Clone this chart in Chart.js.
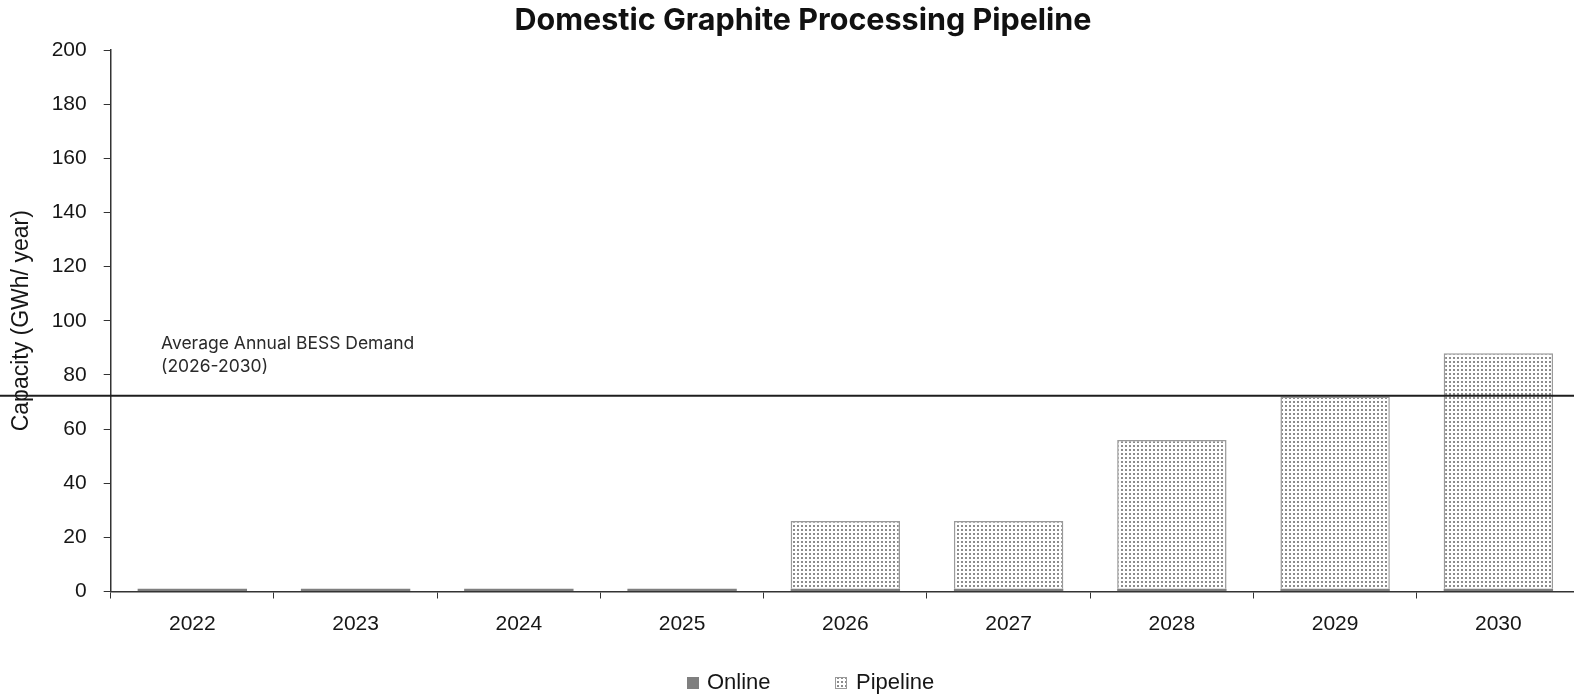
<!DOCTYPE html>
<html>
<head>
<meta charset="utf-8">
<script src="https://cdn.jsdelivr.net/npm/chart.js@4.4.1/dist/chart.umd.min.js"></script>
<style>
  html, body { margin: 0; padding: 0; background: #fff; overflow: hidden; }
  canvas { display: block; }
</style>
</head>
<body>
<canvas id="chart" width="1580" height="694"></canvas>
<script>
// Capacity by year (GWh / year)
const years = ['2022', '2023', '2024', '2025', '2026', '2027', '2028', '2029', '2030'];
const onlineCapacity = [1, 1, 1, 1, 1, 1, 1, 1, 1];
const pipelineCapacity = [0, 0, 0, 0, 25, 25, 55, 71, 87];
const yTicks = [0, 20, 40, 60, 80, 100, 120, 140, 160, 180, 200];
const demandLevel = 72.3;
const demandLabel = ['Average Annual BESS Demand', '(2026-2030)'];
const chartTitle = 'Domestic Graphite Processing Pipeline';
const yTitle = 'Capacity (GWh/ year)';

// Stippled fill for pipeline bars
function makeDotPattern() {
  const c = document.createElement('canvas');
  c.width = 4; c.height = 4;
  const g = c.getContext('2d');
  g.fillStyle = '#ffffff';
  g.fillRect(0, 0, 4, 4);
  g.fillStyle = '#8c8c8c';
  g.fillRect(1, 1, 2, 2);
  return g.createPattern(c, 'repeat');
}
const ctx = document.getElementById('chart').getContext('2d');
const dots = makeDotPattern();

const TEXT = '#161616';
const FONT = '"Liberation Sans", Arial, sans-serif';
const PIPE_EDGE = '#9a9a9a';

const overlay = {
  id: 'overlay',
  afterDatasetsDraw(chart) {
    const c = chart.ctx;
    const y = chart.scales.y;
    const py = y.getPixelForValue(demandLevel);
    c.save();
    // demand reference line spans the full width
    c.strokeStyle = '#1e1e1e';
    c.lineWidth = 2;
    c.beginPath();
    c.moveTo(0, py);
    c.lineTo(chart.width, py);
    c.stroke();
    // its label
    c.fillStyle = '#2a2a2a';
    c.font = '17.5px "Inter", ' + FONT;
    c.textAlign = 'left';
    c.textBaseline = 'middle';
    c.fillText(demandLabel[0], 161, py - 52);
    c.fillText(demandLabel[1], 161, py - 29);
    c.restore();
  },
  afterDraw(chart) {
    const c = chart.ctx;
    const y = chart.scales.y;
    c.save();
    // chart title
    c.fillStyle = '#111';
    c.font = 'bold 30.5px "Inter", ' + FONT;
    c.textAlign = 'center';
    c.textBaseline = 'middle';
    c.fillText(chartTitle, 803, 21);

    // legend along the bottom
    const ds = chart.data.datasets;
    const items = [
      { x: 687, textX: 707, size: 12 },
      { x: 835, textX: 856, size: 12 }
    ];
    const ly = 683;
    c.font = '22px ' + FONT;
    c.textAlign = 'left';
    ds.forEach((d, i) => {
      const it = items[i];
      c.fillStyle = d.backgroundColor;
      c.fillRect(it.x, ly - it.size / 2, it.size, it.size);
      if (i === 1) {
        c.strokeStyle = PIPE_EDGE;
        c.lineWidth = 1;
        c.strokeRect(it.x + 0.5, ly - it.size / 2 + 0.5, it.size - 1, it.size - 1);
      }
      c.fillStyle = TEXT;
      c.fillText(d.label, it.textX, ly);
    });

    // vertical axis title
    c.translate(22, (y.top + y.bottom) / 2);
    c.rotate(-Math.PI / 2);
    c.textAlign = 'center';
    c.font = '23px ' + FONT;
    c.fillStyle = TEXT;
    c.fillText(yTitle, 0, 0);
    c.restore();
  }
};

new Chart(ctx, {
  type: 'bar',
  data: {
    labels: years,
    datasets: [
      {
        label: 'Online',
        data: onlineCapacity,
        backgroundColor: '#7f7f7f',
        borderWidth: 0,
        barPercentage: 0.67,
        categoryPercentage: 1.0
      },
      {
        label: 'Pipeline',
        data: pipelineCapacity,
        backgroundColor: dots,
        borderColor: PIPE_EDGE,
        borderWidth: 1.5,
        barPercentage: 0.67,
        categoryPercentage: 1.0
      }
    ]
  },
  options: {
    responsive: false,
    animation: false,
    devicePixelRatio: 1,
    layout: { padding: { left: 0, right: 0, top: 50, bottom: 52.5 } },
    plugins: {
      title: { display: false },
      tooltip: { enabled: false },
      legend: { display: false }
    },
    scales: {
      x: {
        stacked: true,
        offset: true,
        afterFit(scale) { scale.height = 50; },
        grid: {
          display: true,
          drawOnChartArea: false,
          drawTicks: true,
          tickLength: 7,
          offset: true,
          color: '#333'
        },
        border: { display: true, color: '#333', width: 1.5 },
        ticks: {
          color: TEXT,
          font: { family: FONT, size: 21 },
          padding: 13,
          maxRotation: 0,
          autoSkip: false
        }
      },
      y: {
        stacked: true,
        min: 0,
        max: 200,
        afterFit(scale) { scale.width = 110.7; },
        afterBuildTicks(scale) { scale.ticks = yTicks.map(v => ({ value: v })); },
        grid: {
          display: true,
          drawOnChartArea: false,
          drawTicks: true,
          tickLength: 7,
          color: '#333'
        },
        border: { display: true, color: '#333', width: 1.5 },
        ticks: {
          color: TEXT,
          font: { family: FONT, size: 21 },
          padding: 17
        }
      }
    }
  },
  plugins: [overlay]
});
</script>
</body>
</html>
